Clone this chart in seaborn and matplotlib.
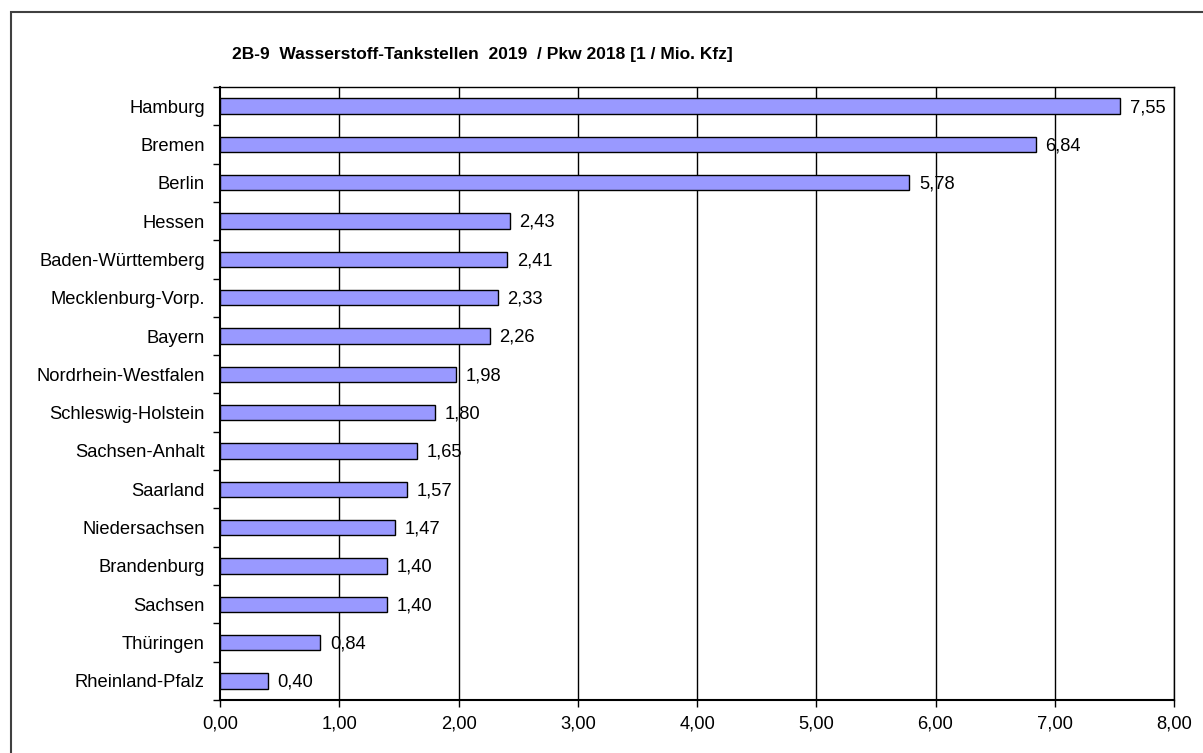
import matplotlib
matplotlib.use("Agg")
import matplotlib.pyplot as plt
import seaborn as sns
import pandas as pd
import numpy as np
from matplotlib.patches import Rectangle

states = ["Hamburg", "Bremen", "Berlin", "Hessen", "Baden-Württemberg",
          "Mecklenburg-Vorp.", "Bayern", "Nordrhein-Westfalen", "Schleswig-Holstein",
          "Sachsen-Anhalt", "Saarland", "Niedersachsen", "Brandenburg", "Sachsen",
          "Thüringen", "Rheinland-Pfalz"]
values = [7.55, 6.84, 5.78, 2.43, 2.41, 2.33, 2.26, 1.98, 1.80, 1.65, 1.57,
          1.47, 1.40, 1.40, 0.84, 0.40]
xticks = [0, 1, 2, 3, 4, 5, 6, 7, 8]
title = "2B-9  Wasserstoff-Tankstellen  2019  / Pkw 2018 [1 / Mio. Kfz]"

sns.set_theme(style="white")
plt.rcParams['font.family'] = ['Liberation Sans', 'DejaVu Sans']

FS = 13.2

df = pd.DataFrame({"state": states, "value": values})

fig = plt.figure(figsize=(12.03, 7.53), dpi=100)
W, H = 1203, 753
ax = fig.add_axes([220 / W, 1 - 700 / H, (1174 - 220) / W, (700 - 87) / H])

sns.barplot(data=df, x="value", y="state", orient="h", color="#9999FF",
            edgecolor="black", linewidth=1.0, width=0.4, saturation=1, ax=ax, zorder=3)

ax.set_xlim(0, 8)
ax.set_ylim(len(states) - 0.5, -0.5)
ax.set_xticks(xticks)
ax.set_xticklabels([f"{t:.2f}".replace(".", ",") for t in xticks], fontsize=FS)
ax.set_xlabel("")
ax.set_ylabel("")
ax.tick_params(axis="y", which="major", length=0, pad=11, labelsize=FS, labelcolor="black")
ax.set_yticks(np.arange(-0.5, len(states), 1.0), minor=True)
ax.tick_params(axis="y", which="minor", length=5, width=1, color="black", direction="out", left=True)
ax.tick_params(axis="x", which="major", length=5, width=1, color="black", direction="out",
               bottom=True, pad=6, labelcolor="black")

ax.grid(False)
for t in xticks[1:]:
    ax.axvline(t, color="black", linewidth=1.0, zorder=1)

for s in ["left", "bottom", "top", "right"]:
    ax.spines[s].set_visible(True)
    ax.spines[s].set_color("black")
ax.spines["left"].set_linewidth(1.5)
ax.spines["bottom"].set_linewidth(1.5)
ax.spines["top"].set_linewidth(1.0)
ax.spines["right"].set_linewidth(1.0)

for i, v in enumerate(values):
    ax.annotate(f"{v:.2f}".replace(".", ","), xy=(v, i), xytext=(7, -1),
                textcoords="offset points", ha="left", va="center",
                fontsize=FS, color="black", zorder=5)

fig.text(232 / W, 1 - 55 / H, title, fontsize=12.5, fontweight="bold",
         ha="left", va="center", color="black")

fig.patches.append(Rectangle((11 / W, -0.05), 1.2, 1 - 12 / H + 0.05,
                             transform=fig.transFigure, fill=False,
                             edgecolor="#404040", linewidth=1.5, figure=fig))

fig.savefig("out.png", dpi=100)
